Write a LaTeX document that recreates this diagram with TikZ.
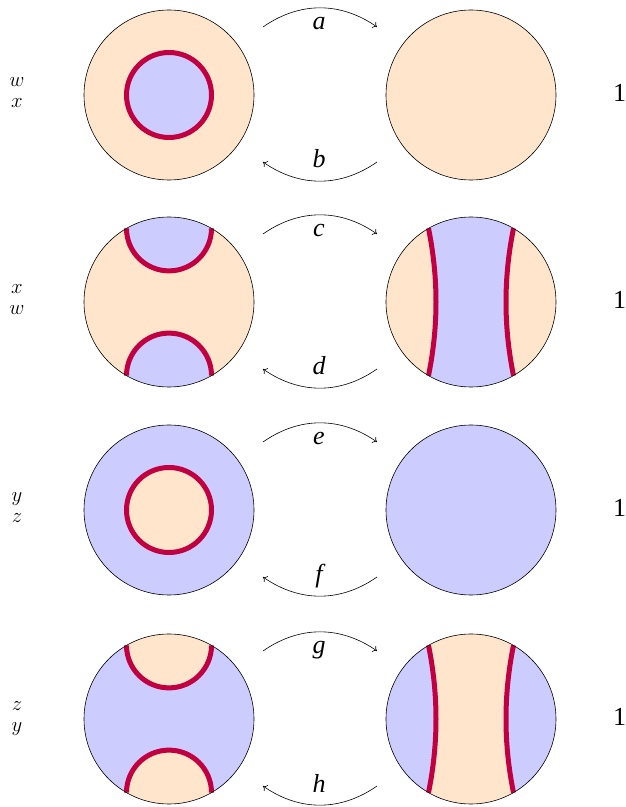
\documentclass[tikz,border=0pt]{standalone}
\usepackage{fontspec}
\setmainfont{Liberation Serif}
\usetikzlibrary{arrows.meta,calc}
\definecolor{peach}{RGB}{255,229,204}
\definecolor{lav}{RGB}{204,204,255}
\definecolor{wall}{RGB}{192,0,64}
\begin{document}
\begin{tikzpicture}[x=1pt,y=1pt,
  disk/.style={draw=black, line width=0.6pt},
  wallline/.style={draw=wall, line width=5pt},
  move/.style={-{To[length=4pt,width=7pt]}, line width=0.6pt},
  lab/.style={font=\fontsize{26}{30}\selectfont\itshape, anchor=base, inner sep=0pt},
  side/.style={font=\fontsize{20}{24}\selectfont, anchor=base, inner sep=0pt},
  one/.style={font=\fontsize{26}{30}\selectfont, anchor=base west, inner sep=0pt},
]
\useasboundingbox (0,0) rectangle (625,807);

% rows with a closed loop
\foreach \cy/\A/\B in {712/peach/lav, 297/lav/peach}{
  \coordinate (L\cy) at (169,\cy);
  \coordinate (R\cy) at (471,\cy);
  \fill[\A] (L\cy) circle[radius=85];
  \fill[\B] (L\cy) circle[radius=42.5];
  \draw[wallline] (L\cy) circle[radius=42.5];
  \draw[disk] (L\cy) circle[radius=85];
  \fill[\A] (R\cy) circle[radius=85];
  \draw[disk] (R\cy) circle[radius=85];
}

% rows with two arcs
\foreach \cy/\A/\B in {505/peach/lav, 88/lav/peach}{
  \coordinate (L\cy) at (169,\cy);
  \coordinate (R\cy) at (471,\cy);
  % left disk: caps
  \fill[\A] (L\cy) circle[radius=85];
  \fill[\B] ($(L\cy)+(60:85)$) arc[start angle=60,end angle=120,radius=85]
        arc[start angle=180,end angle=360,radius=42.5] -- cycle;
  \fill[\B] ($(L\cy)+(240:85)$) arc[start angle=240,end angle=300,radius=85]
        arc[start angle=0,end angle=180,radius=42.5] -- cycle;
  \draw[wallline] ($(L\cy)+(120:85)$) arc[start angle=180,end angle=360,radius=42.5];
  \draw[wallline] ($(L\cy)+(300:85)$) arc[start angle=0,end angle=180,radius=42.5];
  \draw[disk] (L\cy) circle[radius=85];
  % right disk: strip
  \fill[\A] (R\cy) circle[radius=85];
  \fill[\B] ($(R\cy)+(120:85)$)
      .. controls ($(R\cy)+(-32.5,24.5)$) and ($(R\cy)+(-32.5,-24.5)$) .. ($(R\cy)+(240:85)$)
      arc[start angle=240,end angle=300,radius=85]
      .. controls ($(R\cy)+(32.5,-24.5)$) and ($(R\cy)+(32.5,24.5)$) .. ($(R\cy)+(60:85)$)
      arc[start angle=60,end angle=120,radius=85] -- cycle;
  \draw[wallline] ($(R\cy)+(120:85)$)
      .. controls ($(R\cy)+(-32.5,24.5)$) and ($(R\cy)+(-32.5,-24.5)$) .. ($(R\cy)+(240:85)$);
  \draw[wallline] ($(R\cy)+(60:85)$)
      .. controls ($(R\cy)+(32.5,24.5)$) and ($(R\cy)+(32.5,-24.5)$) .. ($(R\cy)+(300:85)$);
  \draw[disk] (R\cy) circle[radius=85];
}

% arrows and labels
\foreach \cy/\la/\lb/\sa/\sb in {712/a/b/w/x, 505/c/d/x/w, 297/e/f/y/z, 88/g/h/z/y}{
  \coordinate (ts\cy) at (263,\cy+68);
  \coordinate (te\cy) at (377,\cy+68);
  \coordinate (bs\cy) at (377,\cy-67);
  \coordinate (be\cy) at (263,\cy-67);
  \draw[move] (ts\cy) to[bend left=35] (te\cy);
  \draw[move] (bs\cy) to[bend left=35] (be\cy);
  \node[lab] (la\cy) at (319,\cy+65) {\la};
  \node[lab] (lb\cy) at (319,\cy-73) {\lb};
  \node[side] (sa\cy) at (17,\cy+8) {$\sa$};
  \node[side] (sb\cy) at (17,\cy-13) {$\sb$};
  \node[one] (one\cy) at (613,\cy-7) {1};
}
\end{tikzpicture}
\end{document}
